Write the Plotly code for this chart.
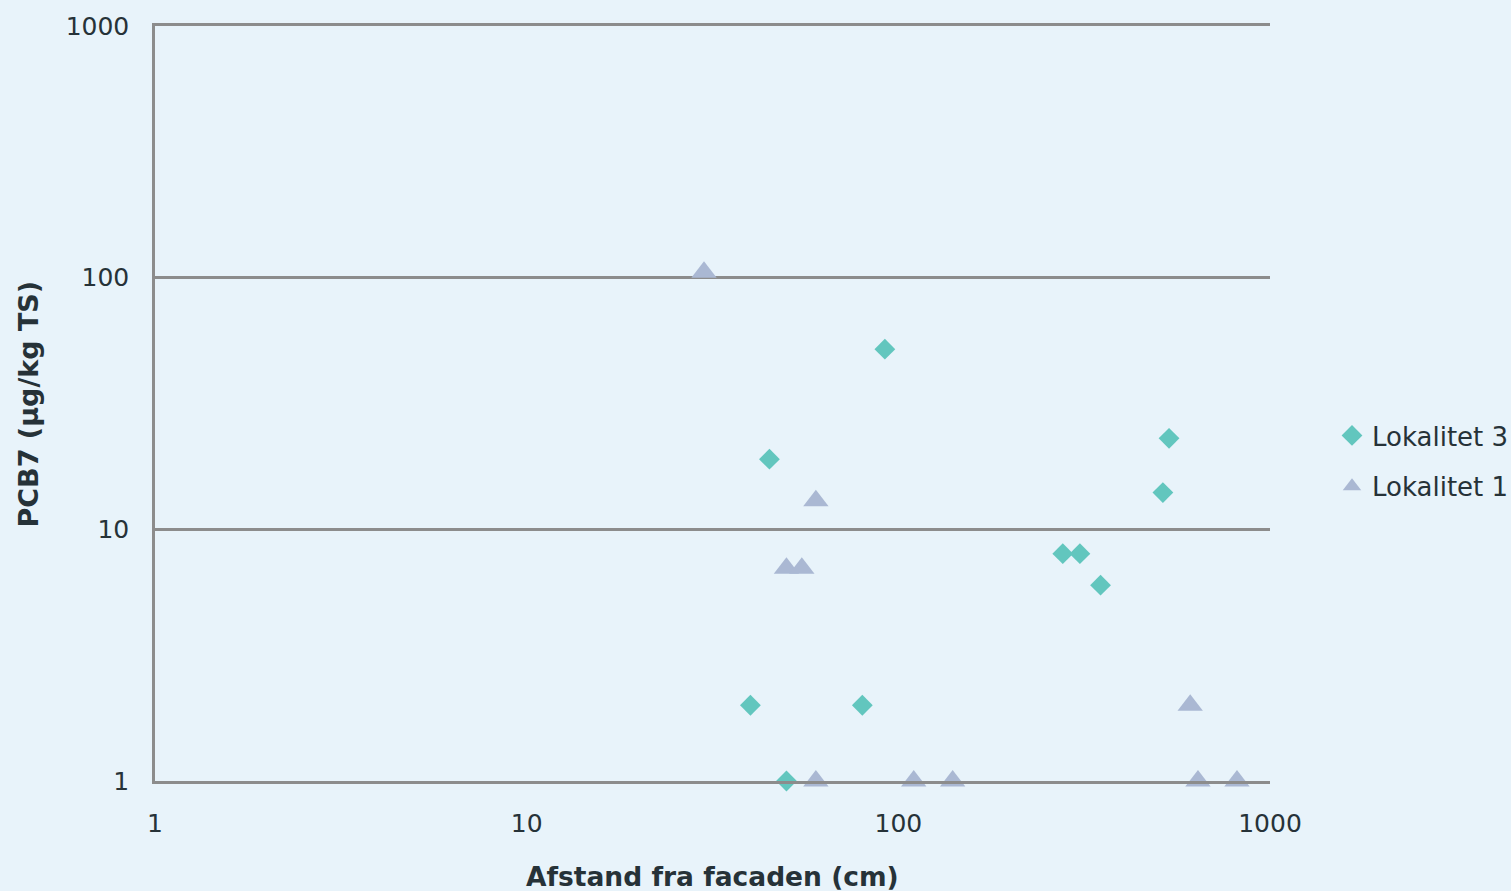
import plotly.graph_objects as go

# Lokalitet 3 (diamonds)
lok3_x = [45, 92, 40, 50, 80, 277, 308, 350, 515, 535]
lok3_y = [19, 52, 2, 1, 2, 8, 8, 6, 14, 23]

# Lokalitet 1 (triangles)
lok1_x = [30, 60, 50, 55, 60, 110, 140, 610, 640, 815]
lok1_y = [105, 13, 7, 7, 1, 1, 1, 2, 1, 1]

tick_vals = [1, 10, 100, 1000]
tick_text = ["1", "10", "100", "1000"]

x_title = "Afstand fra facaden (cm)"
y_title = "PCB7 (µg/kg TS)"

bg = "#E8F3FA"
grid = "#8C8C8C"
txt = "#263238"
font_family = "DejaVu Sans"

fig = go.Figure()
fig.add_trace(go.Scatter(
    x=lok3_x, y=lok3_y, mode="markers", name="Lokalitet 3",
    legendgroup="g3",
    marker=dict(symbol="diamond", size=16, color="#62C6BE"),
    cliponaxis=False,
))
fig.add_trace(go.Scatter(
    x=lok1_x, y=lok1_y, mode="markers", name="Lokalitet 1",
    legendgroup="g1",
    marker=dict(symbol="triangle-up", size=22, color="#AAB8D3"),
    cliponaxis=False,
))

fig.update_layout(
    width=1511, height=891,
    paper_bgcolor=bg, plot_bgcolor=bg,
    margin=dict(l=155, r=241, t=26, b=110),
    font=dict(family=font_family, size=25, color=txt),
    showlegend=True,
    legend=dict(
        xref="container", yref="container",
        x=1332 / 1511, y=1 - 461 / 891, xanchor="left", yanchor="middle",
        bgcolor="rgba(0,0,0,0)", font=dict(size=26, color=txt),
        traceorder="grouped", tracegroupgap=14,
        itemwidth=30,
    ),
    xaxis=dict(
        type="log", range=[0, 3],
        tickvals=tick_vals, ticktext=tick_text,
        showgrid=False, zeroline=False,
        showline=True, linecolor=grid, linewidth=2.5, mirror=True,
        ticks="", ticklabelstandoff=18,
        tickfont=dict(size=25, color=txt),
    ),
    yaxis=dict(
        type="log", range=[0, 3],
        tickvals=tick_vals, ticktext=tick_text,
        showgrid=True, gridcolor=grid, gridwidth=2.5,
        zeroline=False,
        showline=True, linecolor=grid, linewidth=2.5,
        ticks="", ticklabelstandoff=18,
        tickfont=dict(size=25, color=txt),
    ),
    annotations=[
        dict(text="<b>" + x_title + "</b>", xref="paper", yref="paper",
             x=0.5, y=(781 - 876) / 755, xanchor="center", yanchor="middle",
             showarrow=False, font=dict(size=26.5, color=txt)),
        dict(text="<b>" + y_title + "</b>", xref="paper", yref="paper",
             x=(28 - 155) / 1115, y=0.5, xanchor="center", yanchor="middle",
             textangle=-90, showarrow=False, font=dict(size=27, color=txt)),
    ],
)

fig.write_html(
    "out.html",
    config={"displayModeBar": False},
    post_script="document.body.style.margin='0';document.body.style.overflow='hidden';",
)
